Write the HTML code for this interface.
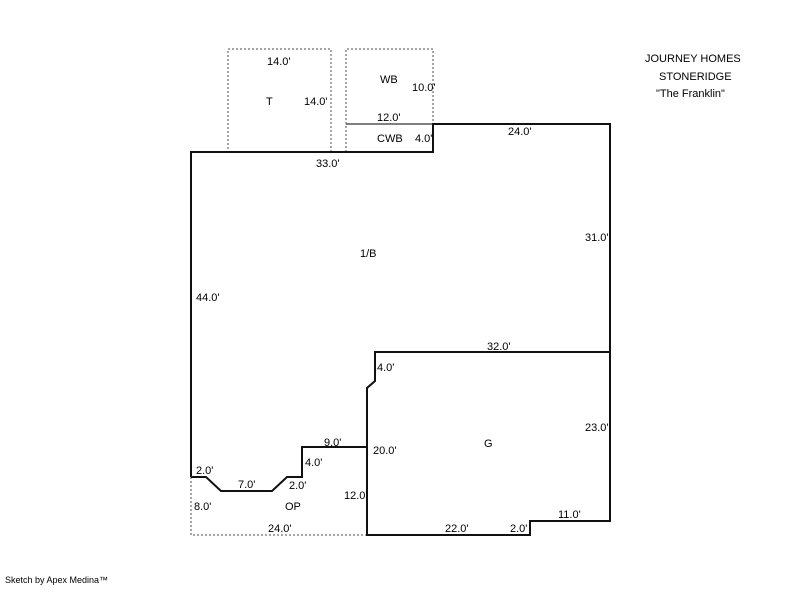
<!DOCTYPE html>
<html><head><style>
body{margin:0;background:#fff;width:800px;height:587px;overflow:hidden}
svg text{font-family:"Liberation Sans",sans-serif;font-size:11px;fill:#000}
</style></head><body>
<svg width="800" height="587" xmlns="http://www.w3.org/2000/svg">
<g fill="none" stroke="#888" stroke-width="1.5" stroke-dasharray="2,2">
<rect x="228" y="49" width="103" height="103"/>
<polyline points="346,152 346,49 433,49 433,124"/>
<polyline points="191,477 191,535 367,535"/>
</g>
<line x1="346" y1="124" x2="433" y2="124" stroke="#555" stroke-width="1.5"/>
<g fill="none" stroke="#111" stroke-width="2">
<polyline points="191,477 191,152 433,152 433,124 610,124 610,521 530,521 530,535 367,535 367,388 375,381 375,352 610,352"/>
<polyline points="191,477 206,477 221,491 272,491 287,477 302,477 302,447 367,447"/>
</g>
<text x="645" y="62">JOURNEY HOMES</text>
<text x="659" y="80">STONERIDGE</text>
<text x="656" y="97">"The Franklin"</text>
<text x="267" y="65">14.0'</text>
<text x="266" y="105">T</text>
<text x="304" y="105">14.0'</text>
<text x="380" y="83">WB</text>
<text x="412" y="91">10.0'</text>
<text x="377" y="121">12.0'</text>
<text x="377" y="142">CWB</text>
<text x="415" y="142">4.0'</text>
<text x="508" y="135">24.0'</text>
<text x="316" y="167">33.0'</text>
<text x="585" y="241">31.0'</text>
<text x="360" y="257">1/B</text>
<text x="196" y="301">44.0'</text>
<text x="487" y="350">32.0'</text>
<text x="377" y="371">4.0'</text>
<text x="585" y="431">23.0'</text>
<text x="484" y="447">G</text>
<text x="324" y="446">9.0'</text>
<text x="373" y="454">20.0'</text>
<text x="305" y="466">4.0'</text>
<text x="196" y="474">2.0'</text>
<text x="238" y="488">7.0'</text>
<text x="289" y="489">2.0'</text>
<text x="344" y="499">12.0'</text>
<text x="194" y="510">8.0'</text>
<text x="285" y="510">OP</text>
<text x="558" y="518">11.0'</text>
<text x="445" y="532">22.0'</text>
<text x="510" y="532">2.0'</text>
<text x="268" y="532">24.0'</text>
<text x="5" y="583" style="font-size:9px">Sketch by Apex Medina™</text>
</svg>
</body></html>
